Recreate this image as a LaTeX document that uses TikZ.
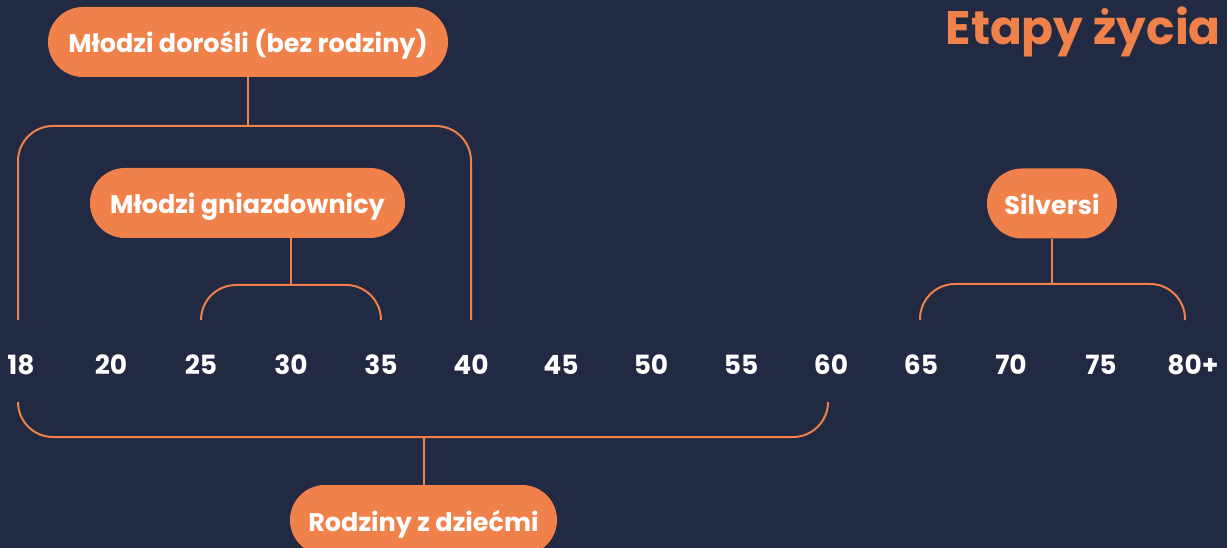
\documentclass[tikz,border=0pt]{standalone}
\usepackage{fontspec}
\setmainfont{Poppins}
\definecolor{bg}{HTML}{222A43}
\definecolor{org}{HTML}{F0814A}
\begin{document}
\begin{tikzpicture}[x=1pt,y=-1pt,
  pill/.style={fill=org,rounded corners=35pt,minimum height=70pt,inner sep=0pt,text height=22pt,text depth=0pt,text=white,font=\bfseries\fontsize{25.5}{30}\selectfont},
  conn/.style={draw=org,line width=2pt},
  num/.style={text=white,font=\bfseries\fontsize{26.5}{30}\selectfont,inner sep=0pt}]
\fill[bg] (0,0) rectangle (1227,548);
\useasboundingbox (0,0) rectangle (1227,548);
\begin{scope}
\clip (0,0) rectangle (1227,548);
% numbers
\foreach \lab/\xx in {18/21,20/111,25/201,30/291,35/381,40/471,45/561,50/651,55/741,60/831,65/921,70/1011,75/1101}
  \node[num] (n\lab) at (\xx,365) {\lab};
\node[num] (n80) at (1193,365) {80+};
% title
\node[anchor=east,text=org,font=\bfseries\fontsize{47}{52}\selectfont,inner sep=0pt] (title) at (1221,32) {Etapy życia};
% boxes
\node[pill,minimum width=400pt] (dor) at (248,42) {Młodzi dorośli (bez rodziny)};
\node[pill,minimum width=315pt] (gn) at (247.5,203) {Młodzi gniazdownicy};
\node[pill,minimum width=130pt] (sil) at (1052,203.5) {Silversi};
\node[pill,minimum width=267pt] (rod) at (423.5,520) {Rodziny z dziećmi};
% bracket end coordinates
\coordinate (a18) at (18,320);
\coordinate (a40) at (471,320);
\coordinate (a25) at (201,320);
\coordinate (a35) at (381,320);
\coordinate (a65) at (920,320);
\coordinate (a80) at (1185,320);
\coordinate (b18) at (18,402);
\coordinate (b60) at (828,402);
% brackets
\draw[conn,rounded corners=35pt] (a18) -- (18,126) -- (471,126) -- (a40);
\draw[conn] (dor.south -| 248,0) -- (248,126);
\draw[conn,rounded corners=35pt] (a25) -- (201,285) -- (381,285) -- (a35);
\draw[conn] (gn.south -| 291,0) -- (291,285);
\draw[conn,rounded corners=35pt] (a65) -- (920,284) -- (1185,284) -- (a80);
\draw[conn] (sil.south) -- (1052,284);
\draw[conn,rounded corners=35pt] (b18) -- (18,437) -- (828,437) -- (b60);
\draw[conn] (rod.north -| 424,0) -- (424,437);
\end{scope}
\end{tikzpicture}
\end{document}
